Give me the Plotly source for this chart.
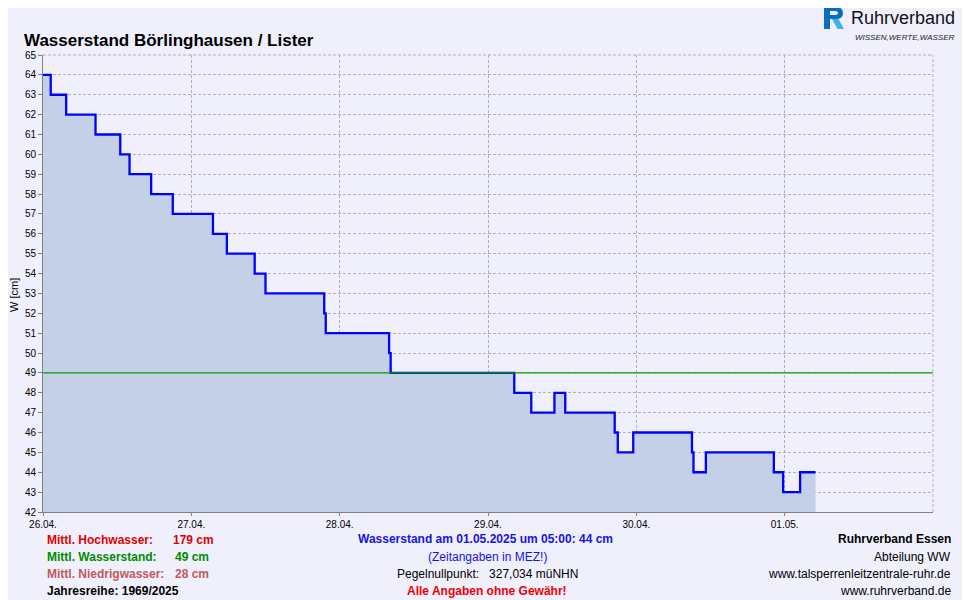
import plotly.graph_objects as go
from datetime import datetime, timedelta

# ---- data ----
start = datetime(2025, 4, 26, 0, 0)
change_hours = [0, 1.25, 3.75, 8.5, 12.5, 14, 17.5, 21, 27.5, 29.75, 34.25, 36, 45.5, 45.75,
                56, 56.25, 76.25, 79, 82.75, 84.5, 92.5, 93, 95.5, 105, 105.25, 107.25,
                118.25, 119.75, 122.5, 125]
levels = [64, 63, 62, 61, 60, 59, 58, 57, 56, 55, 54, 53, 52, 51,
          50, 49, 48, 47, 48, 47, 46, 45, 46, 45, 44, 45,
          44, 43, 44, 44]
mean_level = 49
tick_dates = ["2025-04-26", "2025-04-27", "2025-04-28", "2025-04-29", "2025-04-30", "2025-05-01"]
tick_labels = ["26.04.", "27.04.", "28.04.", "29.04.", "30.04.", "01.05."]

times = [start + timedelta(hours=h) for h in change_hours]

BG = "#f0f0fc"
FONT = "Liberation Sans, Arial, sans-serif"
OFF = 8  # page body margin
W, H = 970 - OFF, 600 - OFF

fig = go.Figure()
fig.add_trace(go.Scatter(
    x=times, y=levels, mode="lines", line=dict(color="#0000ff", width=2.3, shape="hv"),
    fill="tozeroy", fillcolor="#c4d0e8", hoverinfo="skip", showlegend=False))
fig.add_trace(go.Scatter(
    x=[datetime(2025, 4, 26), datetime(2025, 5, 2)], y=[mean_level, mean_level], mode="lines",
    line=dict(color="#00a000", width=1.2), hoverinfo="skip", showlegend=False))

L, R, T, B = 43, 933, 55, 512
def px(x):
    return (x - L) / (R - L)
def py(y):
    return (B - y) / (B - T)

def path(cmds):
    out = []
    for c in cmds:
        if isinstance(c, str):
            out.append(c)
        else:
            out.append("%.5f,%.5f" % (px(c[0]), py(c[1])))
    return " ".join(out)

anns = []
def txt(x, y, s, color="#000000", size=12, bold=False, xanchor="left", italic=False, family=FONT):
    if bold:
        s = "<b>" + s + "</b>"
    if italic:
        s = "<i>" + s + "</i>"
    anns.append(dict(x=px(x), y=py(y), xref="paper", yref="paper", text=s, showarrow=False,
                     xanchor=xanchor, yanchor="middle", font=dict(color=color, size=size, family=family)))

txt(22, 40, "Wasserstand Börlinghausen / Lister", size=17, bold=True)
# left block
txt(45, 540, "Mittl. Hochwasser:", "#e00000", bold=True)
txt(171, 540, "179 cm", "#e00000", bold=True)
txt(45, 557, "Mittl. Wasserstand:", "#008c00", bold=True)
txt(173, 557, "49 cm", "#008c00", bold=True)
txt(45, 574, "Mittl. Niedrigwasser:", "#c05a5a", bold=True)
txt(173, 574, "28 cm", "#c05a5a", bold=True)
txt(45, 591, "Jahresreihe: 1969/2025", "#000000", bold=True)
# centre block
txt(485, 539, "Wasserstand am 01.05.2025 um 05:00: 44 cm", "#1414e6", bold=True, xanchor="center")
txt(487, 557, "(Zeitangaben in MEZ!)", "#1414e6", xanchor="center")
txt(487, 574, "Pegelnullpunkt:&nbsp;&nbsp; 327,034 müNHN", "#000000", xanchor="center")
txt(487, 591, "Alle Angaben ohne Gewähr!", "#f00000", bold=True, xanchor="center")
# right block
txt(953, 539, "Ruhrverband Essen", bold=True, xanchor="right")
txt(953, 557, "Abteilung WW", xanchor="right")
txt(953, 574, "www.talsperrenleitzentrale-ruhr.de", xanchor="right")
txt(953, 591, "www.ruhrverband.de", xanchor="right")
# logo words
txt(957, 18, "Ruhrverband", "#111111", size=18, xanchor="right")
txt(956, 38, "WISSEN,WERTE,WASSER", "#222222", size=8, italic=True, xanchor="right")
# y axis title
anns.append(dict(x=px(14), y=py(295), xref="paper", yref="paper", text="W [cm]", textangle=-90,
                 showarrow=False, xanchor="center", yanchor="middle",
                 font=dict(color="#000000", size=11, family=FONT)))

logo_dark = path(["M", (824, 7), "L", (836, 7), "Q", (843, 7), (843, 13), "Q", (843, 19), (836, 19),
                  "L", (830, 19), "L", (830, 29), "L", (824, 29), "Z"])
logo_hole = path(["M", (830, 11), "L", (835, 11), "Q", (838, 11), (838, 13), "Q", (838, 15), (835, 15),
                  "L", (830, 15), "Z"])
logo_leg = path(["M", (832, 19), "L", (838.5, 19), "L", (844, 29), "L", (837.5, 29), "Z"])

fig.update_layout(
    width=W, height=H, paper_bgcolor=BG, plot_bgcolor=BG,
    margin=dict(l=L - OFF, r=W - (R - OFF), t=T - OFF, b=H - (B - OFF), pad=0),
    annotations=anns, font=dict(family=FONT, size=10, color="#000000"),
    shapes=[dict(type="line", xref="paper", yref="paper", x0=1, x1=1, y0=0, y1=1,
                 line=dict(color="#b0b0b0", width=1, dash="3px,2px")),
            dict(type="line", xref="paper", yref="paper", x0=0, x1=1, y0=1, y1=1,
                 line=dict(color="#b0b0b0", width=1, dash="3px,2px")),
            dict(type="path", xref="paper", yref="paper", path=logo_dark,
                 fillcolor="#0b6cc0", line=dict(width=0)),
            dict(type="path", xref="paper", yref="paper", path=logo_hole,
                 fillcolor=BG, line=dict(width=0)),
            dict(type="path", xref="paper", yref="paper", path=logo_leg,
                 fillcolor="#3cb4e8", line=dict(width=0))],
)
fig.update_xaxes(range=[datetime(2025, 4, 26), datetime(2025, 5, 2)],
                 tickvals=tick_dates, ticktext=tick_labels, ticks="outside", ticklen=3,
                 tickcolor="#808080", showline=True, linecolor="#808080", linewidth=1,
                 showgrid=True, gridcolor="#b0b0b0", griddash="3px,2px", gridwidth=1,
                 tickfont=dict(size=10), zeroline=False)
fig.update_yaxes(range=[42, 65], dtick=1, tick0=42, ticks="outside", ticklen=4,
                 tickcolor="#808080", showline=True, linecolor="#808080", linewidth=1,
                 showgrid=True, gridcolor="#b0b0b0", griddash="3px,2px", gridwidth=1,
                 tickfont=dict(size=10), zeroline=False)

fig.write_html("out.html")
